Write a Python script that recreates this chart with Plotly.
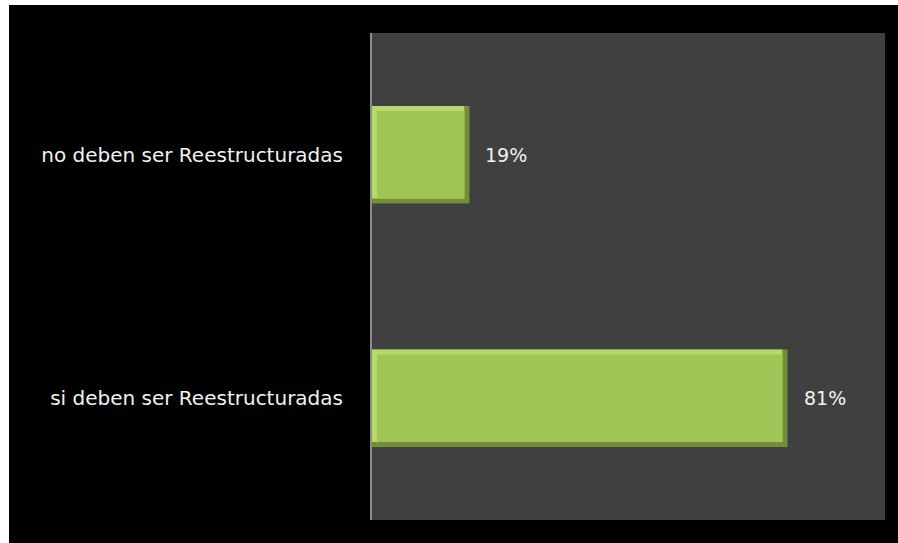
import plotly.graph_objects as go

categorias = ["si deben ser Reestructuradas", "no deben ser Reestructuradas"]
valores = [0.81, 0.19]
etiquetas = ["81%", "19%"]

FUENTE = "DejaVu Sans"
ANCHO = 0.40     # ancho de barra (unidades de categoría)
BISEL_Y = 0.02   # grosor del bisel en el eje de categorías
BISEL_X = 0.01   # grosor del bisel en el eje x

fig = go.Figure()

# capa oscura (bisel inferior/derecho)
fig.add_trace(go.Bar(
    y=categorias, x=valores, orientation="h", width=ANCHO,
    marker=dict(color="#738f33", line=dict(width=0)),
    hoverinfo="skip", showlegend=False))

# capa clara (bisel superior/izquierdo)
fig.add_trace(go.Bar(
    y=categorias, x=[v - BISEL_X for v in valores], orientation="h",
    width=ANCHO - BISEL_Y, offset=-ANCHO / 2 + BISEL_Y,
    marker=dict(color="#b5d86f", line=dict(width=0)),
    hoverinfo="skip", showlegend=False))

# cara de la barra
fig.add_trace(go.Bar(
    y=categorias, x=[v - 2 * BISEL_X for v in valores], base=BISEL_X,
    orientation="h", width=ANCHO - 2 * BISEL_Y, offset=-ANCHO / 2 + BISEL_Y,
    marker=dict(color="#9fc554", line=dict(width=0)),
    hoverinfo="skip", showlegend=False))

# etiquetas de datos
for cat, v, txt in zip(categorias, valores, etiquetas):
    fig.add_annotation(x=v, y=cat, text=txt, showarrow=False,
                       xanchor="left", xshift=14,
                       font=dict(family=FUENTE, size=19, color="#f2f2f2"))

fig.update_layout(
    width=889, height=538,
    margin=dict(l=363, r=13, t=28, b=23),
    paper_bgcolor="black", plot_bgcolor="#404040",
    barmode="overlay", showlegend=False,
    font=dict(family=FUENTE, size=20, color="#f2f2f2"),
)
fig.update_xaxes(range=[0, 1], visible=False, showgrid=False, fixedrange=True)
fig.update_yaxes(showline=True, linecolor="#8c8c8c", linewidth=2, showgrid=False,
                 ticks="", ticklabelstandoff=23,
                 tickfont=dict(family=FUENTE, size=20, color="#f2f2f2"))

# borde blanco como en la imagen original: 9 px a la izquierda, 5 px arriba
fig.write_html("out.html",
               post_script="document.body.style.margin='5px 0 0 9px';"
                           "document.body.style.overflow='hidden';")
